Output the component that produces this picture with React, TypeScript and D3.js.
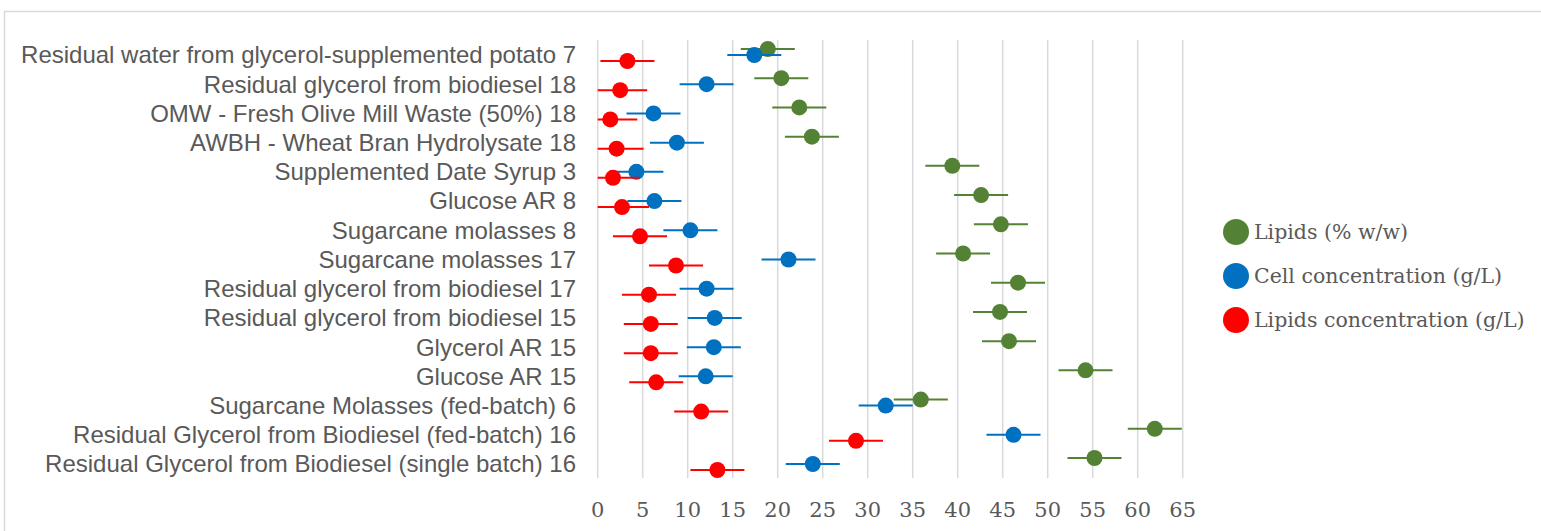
import React from "react";
import { scaleLinear, scalePoint, range } from "d3";

const width = 1541;
const height = 531;

// categories, top to bottom
const categories = [
  "Residual water from glycerol-supplemented potato 7",
  "Residual glycerol from biodiesel 18",
  "OMW - Fresh Olive Mill Waste (50%) 18",
  "AWBH - Wheat Bran Hydrolysate 18",
  "Supplemented Date Syrup 3",
  "Glucose AR 8",
  "Sugarcane molasses 8",
  "Sugarcane molasses 17",
  "Residual glycerol from biodiesel 17",
  "Residual glycerol from biodiesel 15",
  "Glycerol AR 15",
  "Glucose AR 15",
  "Sugarcane Molasses (fed-batch) 6",
  "Residual Glycerol from Biodiesel (fed-batch) 16",
  "Residual Glycerol from Biodiesel (single batch) 16",
];

const lipidsPct = [18.9, 20.4, 22.4, 23.8, 39.4, 42.6, 44.8, 40.6, 46.7, 44.7, 45.7, 54.2, 35.9, 61.9, 55.2];
const cellConc = [17.4, 12.1, 6.2, 8.8, 4.3, 6.3, 10.3, 21.2, 12.1, 13.0, 12.9, 12.0, 32.0, 46.2, 23.9];
const lipidsConc = [3.3, 2.5, 1.4, 2.1, 1.7, 2.7, 4.7, 8.7, 5.7, 5.9, 5.9, 6.5, 11.5, 28.7, 13.3];
const errorSize = 3;

const seriesNames = ["Lipids (% w/w)", "Cell concentration (g/L)", "Lipids concentration (g/L)"];
const seriesColors = ["#548235", "#0070C0", "#FF0000"];
const seriesValues = [lipidsPct, cellConc, lipidsConc];
const seriesOffset = [-6, 0, 6];

const xTicks = range(0, 70, 5);

export default function App() {
  const x = scaleLinear().domain([0, 65]).range([597.7, 1182.7]);
  const y = scalePoint().domain(categories).range([55, 464]);

  return (
    <svg
      width={width}
      height={height}
      style={{ position: "absolute", left: 0, top: 0, background: "#fff" }}
    >
      <rect x={4.5} y={11.5} width={1600} height={600} fill="none" stroke="#d9d9d9" strokeWidth={1.5} />

      {/* vertical grid */}
      {xTicks.map((t) => (
        <line key={t} x1={x(t)} x2={x(t)} y1={40} y2={478} stroke="#d9d9d9" strokeWidth={1.5} />
      ))}

      {/* x tick labels */}
      {xTicks.map((t) => (
        <text
          key={"l" + t}
          x={x(t)}
          y={517}
          textAnchor="middle"
          fill="#595959"
          style={{ fontFamily: "DejaVu Serif", fontSize: "21px" }}
        >
          {t}
        </text>
      ))}

      {/* category labels */}
      {categories.map((c) => (
        <text
          key={c}
          x={576}
          y={y(c)}
          dy="0.35em"
          textAnchor="end"
          fill="#595959"
          style={{ fontFamily: "Liberation Sans", fontSize: "24px" }}
        >
          {c}
        </text>
      ))}

      {/* series: error bars + markers */}
      {seriesValues.map((vals, s) => (
        <g key={s}>
          {vals.map((v, i) => {
            const cy = (y(categories[i]) as number) + seriesOffset[s];
            const lo = Math.max(0, v - errorSize);
            const hi = v + errorSize;
            return (
              <g key={i}>
                <line x1={x(lo)} x2={x(hi)} y1={cy} y2={cy} stroke={seriesColors[s]} strokeWidth={2} />
                <circle cx={x(v)} cy={cy} r={8} fill={seriesColors[s]} />
              </g>
            );
          })}
        </g>
      ))}

      {/* legend */}
      {seriesNames.map((n, s) => (
        <g key={n} transform={`translate(1236,${232 + s * 44})`}>
          <circle r={13} fill={seriesColors[s]} />
          <text
            x={18}
            dy="0.35em"
            fill="#595959"
            style={{ fontFamily: "DejaVu Serif", fontSize: "20.5px" }}
          >
            {n}
          </text>
        </g>
      ))}
    </svg>
  );
}
